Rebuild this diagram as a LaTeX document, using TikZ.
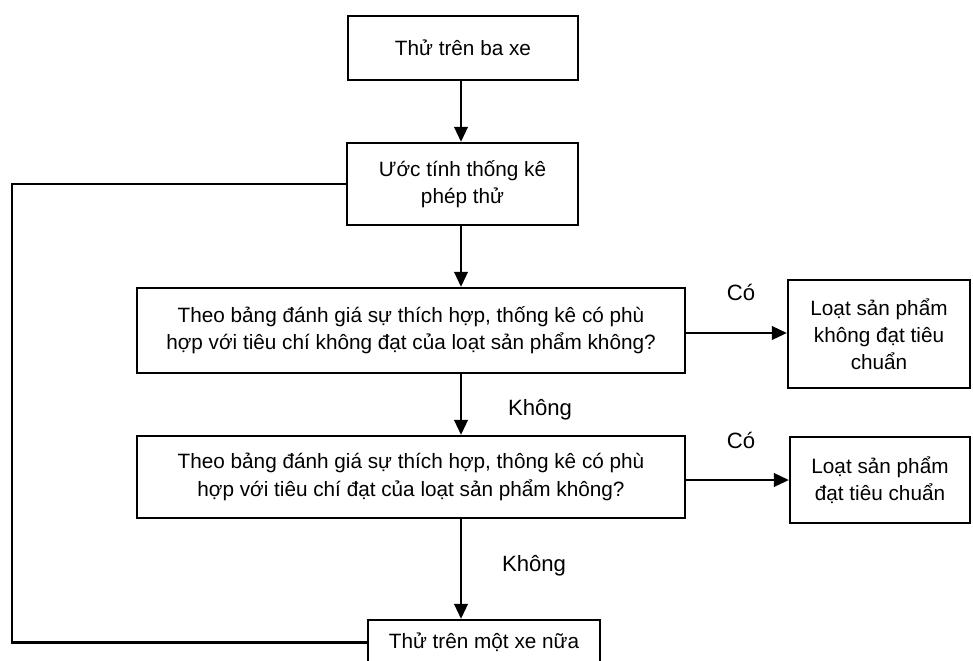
\documentclass[tikz,border=0pt]{standalone}
\usepackage{fontspec}
\setmainfont{Liberation Sans}
\usepackage{tikz}
\usetikzlibrary{arrows.meta}

\begin{document}
\begin{tikzpicture}[x=0.02cm,y=-0.02cm,>={Triangle[length=3mm,width=2.7mm]},
    stepbox/.style={rectangle,draw,line width=1.3pt,align=center,inner sep=2pt,font=\fontsize{11.8}{15.5}\selectfont},
    flow/.style={->,line width=1.3pt},
    tag/.style={font=\fontsize{12.6}{14}\selectfont}]
  \useasboundingbox (0,0) rectangle (973,660);
  % main column
  \node[stepbox,minimum width=4.6cm,minimum height=1.28cm] (top) at (463,48) {Thử trên ba xe};
  \node[stepbox,minimum width=4.62cm,minimum height=1.64cm] (est) at (462.5,184) {Ước tính thống kê\\phép thử};
  \node[stepbox,minimum width=10.96cm,minimum height=1.7cm] (q1) at (411,330.5) {Theo bảng đánh giá sự thích hợp, thống kê có phù\\hợp với tiêu chí không đạt của loạt sản phẩm không?};
  \node[stepbox,minimum width=10.96cm,minimum height=1.64cm] (q2) at (411,477) {Theo bảng đánh giá sự thích hợp, thông kê có phù\\hợp với tiêu chí đạt của loạt sản phẩm không?};
  \node[stepbox,minimum width=4.64cm,minimum height=0.9cm] (more) at (484,642.5) {Thử trên một xe nữa};
  % outcomes
  \node[stepbox,minimum width=3.64cm,minimum height=2.16cm] (fail) at (879,334) {Loạt sản phẩm\\không đạt tiêu\\chuẩn};
  \node[stepbox,minimum width=3.6cm,minimum height=1.72cm] (pass) at (880,480) {Loạt sản phẩm\\đạt tiêu chuẩn};
  \coordinate (loop) at (12,400);
  % arrows
  \draw[flow] (top.south -| 461,0) -- (est.north -| 461,0);
  \draw[flow] (est.south -| 461,0) -- (q1.north -| 461,0);
  \draw[flow] (q1.south -| 461,0) -- (q2.north -| 461,0);
  \draw[flow] (q2.south -| 461,0) -- (more.north -| 461,0);
  \draw[flow] (q1.east |- 0,333) -- (fail.west |- 0,333);
  \draw[flow] (q2.east |- 0,480) -- (pass.west |- 0,480);
  \draw[line width=1.3pt] (more.west) -- (more.west -| loop) |- (est.west);
  % labels
  \node[tag] (yes1) at (741,292) {Có};
  \node[tag] (yes2) at (741,440) {Có};
  \node[tag] (no1) at (540,410) {Không};
  \node[tag] (no2) at (534,566) {Không};
\end{tikzpicture}
\end{document}
